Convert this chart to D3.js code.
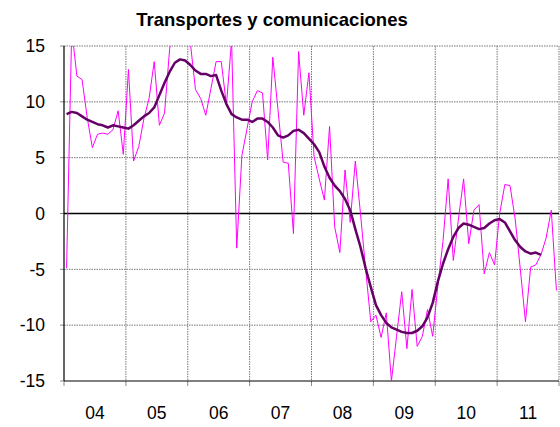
<!DOCTYPE html>
<html>
<head>
<meta charset="utf-8">
<script src="https://cdn.jsdelivr.net/npm/d3@7"></script>
<style>
  body { margin: 0; background: #fff; }
  text { font-family: "Liberation Sans", Arial, sans-serif; }
</style>
</head>
<body>
<div class="viewbox"></div>
<script>
  // year labels on the x axis
  const years = ["04", "05", "06", "07", "08", "09", "10", "11"];
  const yTicks = [-15, -10, -5, 0, 5, 10, 15];

  // monthly rate (thin magenta), Jan 2004 .. Dec 2011
  const monthly = [
    -4.9, 16.5, 12.3, 12.0, 8.6, 5.9, 7.1, 7.2, 7.1, 7.5, 9.2, 5.3,
    12.9, 4.7, 6.0, 8.5, 10.3, 13.6, 7.9, 9.0, 14.8, 17.0, 16.0, 17.0,
    15.3, 11.1, 10.3, 8.8, 11.2, 13.6, 13.6, 9.7, 15.5, -3.1, 5.2, 7.6,
    10.0, 11.0, 10.8, 4.8, 14.0, 9.3, 4.6, 4.5, -1.8, 14.5, 8.8, 12.6,
    5.1, 3.1, 1.2, 7.8, -1.2, -3.5, 3.9, -0.8, 4.7, 0.0, -5.0, -9.7,
    -9.1, -11.1, -8.9, -15.0, -11.0, -7.0, -12.1, -6.8, -11.9, -11.0, -8.6, -11.0,
    -6.5, -2.5, 3.1, -4.2, -0.5, 3.1, -2.7, 0.3, 0.8, -5.4, -3.5, -4.6,
    0.0, 2.6, 2.5, -0.5, -5.0, -9.7, -4.8, -4.6, -3.7, -2.2, 0.3, -6.9
  ];

  // trend (thick dark purple), ends Sep 2011
  const trend = [
    8.9, 9.1, 9.0, 8.7, 8.4, 8.2, 8.0, 7.9, 7.7, 7.9, 7.8, 7.7,
    7.6, 7.9, 8.3, 8.7, 9.0, 9.5, 10.6, 11.7, 12.7, 13.5, 13.8, 13.7,
    13.3, 12.8, 12.5, 12.5, 12.3, 12.4, 11.0, 9.8, 8.9, 8.6, 8.4, 8.4,
    8.2, 8.5, 8.5, 8.2, 7.7, 7.0, 6.8, 7.0, 7.4, 7.5, 7.2, 6.7,
    6.2, 5.5, 4.2, 3.2, 2.5, 2.0, 1.3, 0.3, -1.4, -3.0, -4.9, -6.6,
    -8.2, -9.1, -9.8, -10.2, -10.4, -10.6, -10.7, -10.7, -10.5, -10.1, -9.3, -8.0,
    -6.1, -4.5, -3.2, -2.1, -1.3, -0.9, -1.0, -1.2, -1.4, -1.3, -0.9, -0.6,
    -0.5, -0.8, -1.6, -2.4, -3.0, -3.4, -3.6, -3.5, -3.7
  ];

  const svg_width = 560;
  const svg_height = 427;
  const plotL = 64, plotR = 559, plotT = 46, plotB = 381;

  let svg = d3.select(".viewbox")
    .append("svg")
    .attr("width", svg_width)
    .attr("height", svg_height)

  let x = d3.scaleLinear().domain([-0.5, monthly.length - 0.5]).range([plotL, plotR]);
  let y = d3.scaleLinear().domain([-15, 15]).range([plotB, plotT]);

  svg.append("text")
    .attr("x", 272)
    .attr("y", 26)
    .attr("text-anchor", "middle")
    .style("font-size", "18.5px")
    .style("font-weight", "bold")
    .text("Transportes y comunicaciones")

  // year boundaries (every 12 months)
  const bounds = d3.range(0, years.length + 1).map(k => k * 12 - 0.5);

  // dotted grid
  svg.selectAll("line.hgrid")
    .data(yTicks.filter(t => t !== 0 && t !== -15))
    .enter().append("line")
    .attr("class", "hgrid")
    .attr("x1", plotL).attr("x2", plotR)
    .attr("y1", d => y(d)).attr("y2", d => y(d))
    .attr("stroke", "#777").attr("stroke-width", 1)
    .attr("stroke-dasharray", "1.5,1")

  svg.selectAll("line.vgrid")
    .data(bounds.slice(1))
    .enter().append("line")
    .attr("class", "vgrid")
    .attr("x1", d => x(d)).attr("x2", d => x(d))
    .attr("y1", plotT).attr("y2", plotB)
    .attr("stroke", "#777").attr("stroke-width", 1)
    .attr("stroke-dasharray", "1.5,1")

  // tick marks
  svg.selectAll("line.ytick")
    .data(yTicks)
    .enter().append("line")
    .attr("x1", plotL - 4).attr("x2", plotL)
    .attr("y1", d => y(d)).attr("y2", d => y(d))
    .attr("stroke", "#888")

  svg.selectAll("line.xtick")
    .data(bounds)
    .enter().append("line")
    .attr("x1", d => x(d)).attr("x2", d => x(d))
    .attr("y1", plotB).attr("y2", plotB + 5)
    .attr("stroke", "#888")

  // axes lines
  svg.append("line")
    .attr("x1", plotL).attr("x2", plotL).attr("y1", plotT).attr("y2", plotB)
    .attr("stroke", "#000").attr("stroke-width", 1.2)
  svg.append("line")
    .attr("x1", plotL).attr("x2", plotR).attr("y1", plotB).attr("y2", plotB)
    .attr("stroke", "#000").attr("stroke-width", 1.2)
  svg.append("line")
    .attr("x1", plotL).attr("x2", plotR).attr("y1", y(0)).attr("y2", y(0))
    .attr("stroke", "#000").attr("stroke-width", 1.5)

  // labels
  svg.selectAll("text.ylab")
    .data(yTicks)
    .enter().append("text")
    .attr("x", 45)
    .attr("y", d => y(d))
    .attr("dy", "0.36em")
    .attr("text-anchor", "end")
    .style("font-size", "17.5px")
    .text(d => d)

  svg.selectAll("text.xlab")
    .data(years)
    .enter().append("text")
    .attr("x", (d, i) => x(i * 12 + 5.5))
    .attr("y", 419)
    .attr("text-anchor", "middle")
    .style("font-size", "17.5px")
    .text(d => d)

  svg.append("clipPath").attr("id", "plot")
    .append("rect")
    .attr("x", plotL).attr("y", plotT)
    .attr("width", plotR - plotL).attr("height", plotB - plotT)

  let line = d3.line()
    .x((d, i) => x(i))
    .y(d => y(d))

  svg.append("path")
    .datum(monthly)
    .attr("clip-path", "url(#plot)")
    .attr("d", line)
    .attr("fill", "none")
    .attr("stroke", "#ff00ff")
    .attr("stroke-width", 1)

  svg.append("path")
    .datum(trend)
    .attr("clip-path", "url(#plot)")
    .attr("d", line)
    .attr("fill", "none")
    .attr("stroke", "#660066")
    .attr("stroke-width", 2.5)
    .attr("stroke-linejoin", "round")
</script>
</body>
</html>
